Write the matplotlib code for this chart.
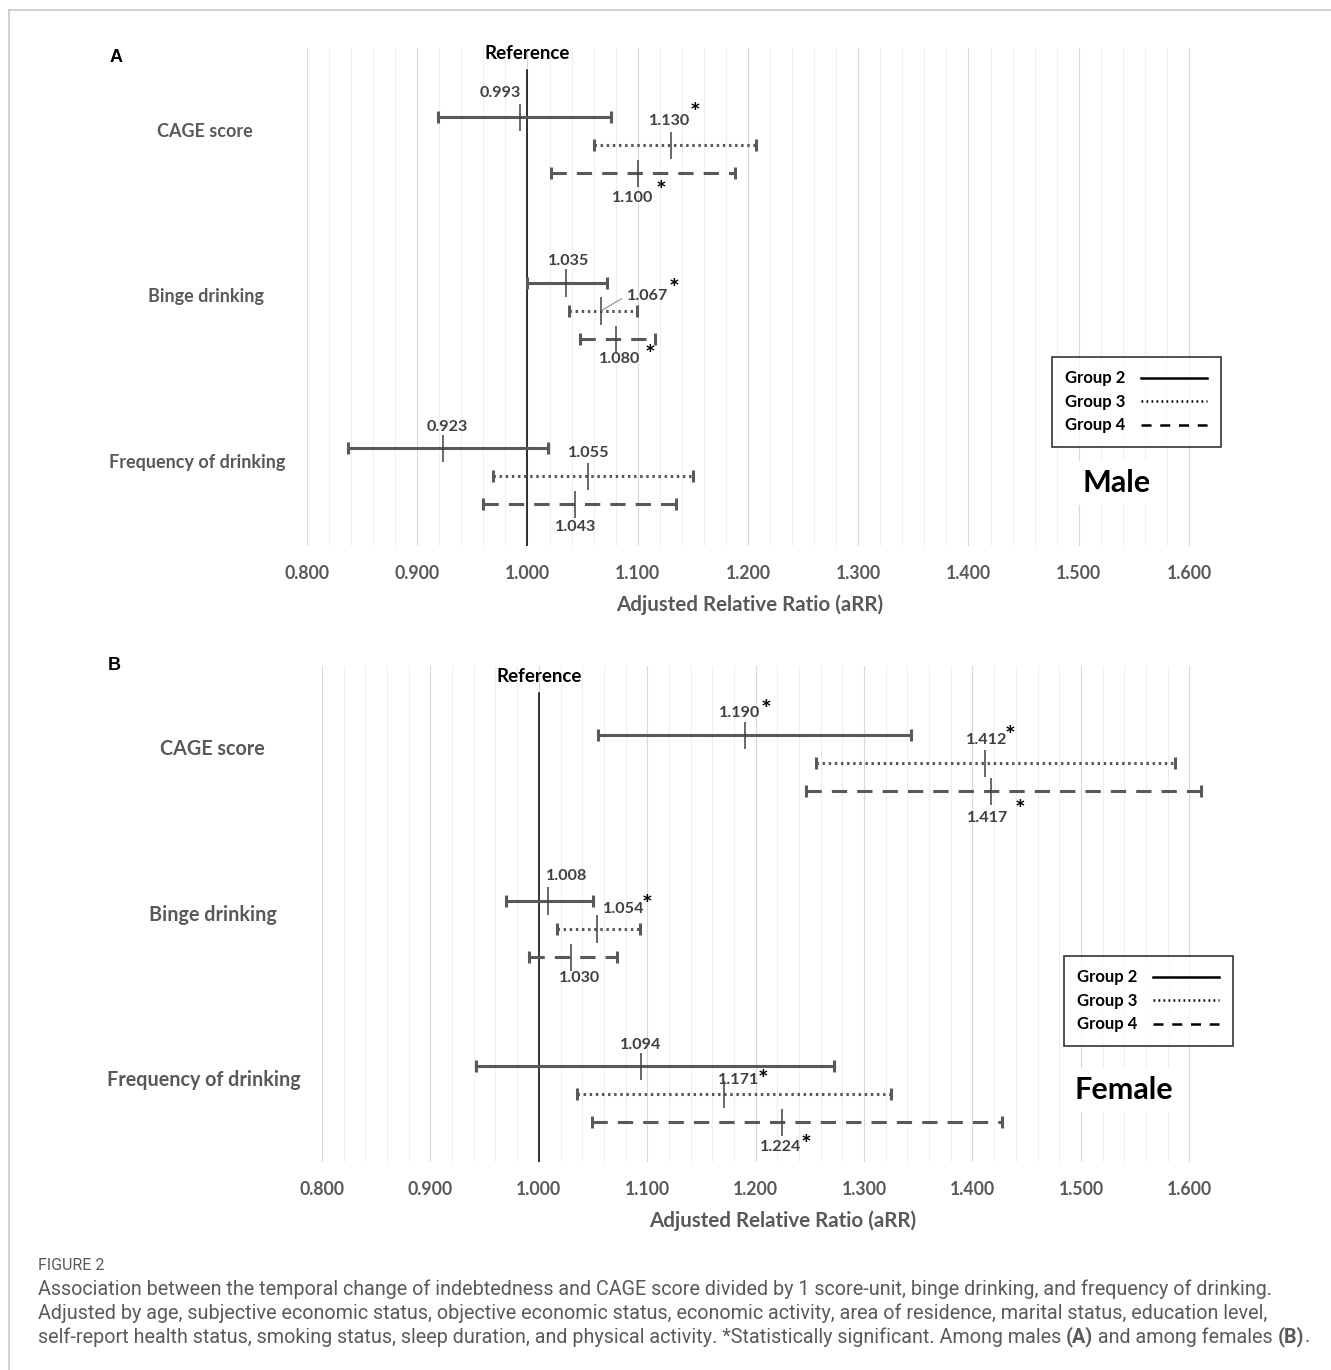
import numpy as np
import matplotlib
matplotlib.use("Agg")
import matplotlib.pyplot as plt
from matplotlib.lines import Line2D
from matplotlib.transforms import blended_transform_factory, offset_copy

plt.rcParams["font.family"] = ["Lato", "DejaVu Sans"]

categories = ["CAGE score", "Binge drinking", "Frequency of drinking"]
groups = ["Group 2", "Group 3", "Group 4"]
xticks = [0.8, 0.9, 1.0, 1.1, 1.2, 1.3, 1.4, 1.5, 1.6]

# male (A): rows = categories, columns = groups
male_arr = [[0.993, 1.130, 1.100], [1.035, 1.067, 1.080], [0.923, 1.055, 1.043]]
male_lo = [[0.919, 1.060, 1.021], [1.000, 1.038, 1.048], [0.837, 0.969, 0.960]]
male_hi = [[1.076, 1.207, 1.188], [1.072, 1.099, 1.116], [1.019, 1.150, 1.135]]
male_sig = [[False, True, True], [False, True, True], [False, False, False]]

# female (B)
female_arr = [[1.190, 1.412, 1.417], [1.008, 1.054, 1.030], [1.094, 1.171, 1.224]]
female_lo = [[1.055, 1.256, 1.246], [0.970, 1.017, 0.991], [0.942, 1.035, 1.049]]
female_hi = [[1.343, 1.587, 1.611], [1.050, 1.093, 1.072], [1.272, 1.325, 1.427]]
female_sig = [[True, True, True], [False, True, False], [False, True, True]]

# label placement (pixel offsets from the point, +dy = down)
male_lab_off = [[(-20, -24), (-1, -24), (-5, 25)],
                [(3, -22), (46, -15), (4, 20)],
                [(5, -21), (1, -23), (1, 23)]]
male_star_off = [[None, (24, -40), (23, 10)],
                 [None, (73, -29), (34, 9)],
                 [None, None, None]]
female_lab_off = [[(-5, -22), (1, -23), (-3, 27)],
                  [(19, -25), (26, -20), (8, 21)],
                  [(0, -21), (14, -14), (-1, 25)]]
female_star_off = [[(21, -33), (25, -35), (29, 11)],
                   [None, (50, -31), None],
                   [None, (39, -22), (24, 15)]]
cat_shift = [0, 1, -8]  # px, category label nudges

W, H = 1331, 1370
fig = plt.figure(figsize=(W / 100, H / 100), dpi=100)

GRAY = "#595959"
DARK = "#404040"
row_step = 0.17
styles = ["-", (0, (0.8, 1.2)), (0, (5, 3.3))]
leg_styles = ["-", (0, (0.7, 1.3)), (0, (4, 3.5))]


def draw_panel(rect, arr, lo, hi, sig, lab_off, star_off, ylim, ref_top, ref_y,
               cat_x, cat_fs, xlab_x, leg_xy, sex, sex_xy):
    ax = fig.add_axes(rect)
    ax.set_xlim(0.8, 1.62)
    ax.set_ylim(*ylim)
    ax.set_xticks(xticks)
    ax.set_xticks(np.arange(0.8, 1.621, 0.02), minor=True)
    ax.set_xticklabels(["%.3f" % t for t in xticks], fontsize=12.7,
                       fontweight="bold", color=GRAY)
    ax.set_yticks([])
    ax.tick_params(axis="x", which="both", length=0, pad=14)
    ax.grid(axis="x", which="major", color="#d9d9d9", lw=0.8)
    ax.grid(axis="x", which="minor", color="#eeeeee", lw=0.8)
    ax.set_axisbelow(True)
    for s in ax.spines.values():
        s.set_visible(False)
    ax.set_xlabel("Adjusted Relative Ratio (aRR)", fontsize=14.8,
                  fontweight="bold", color=GRAY)
    ax.xaxis.set_label_coords(xlab_x, -0.098)

    ax.axvline(1.0, ymin=0, ymax=ref_top, color="black", lw=1.1, zorder=2)
    tr = blended_transform_factory(ax.transData, ax.transAxes)
    ax.text(1.0, ref_y, "Reference", transform=tr, ha="center", va="center",
            fontsize=13.5, fontweight="bold", color="black")

    trc = blended_transform_factory(ax.transAxes, ax.transData)
    for c, cat in enumerate(categories):
        t_cat = offset_copy(trc, fig=fig, x=cat_shift[c], y=0, units="dots")
        ax.text(cat_x, c + 0.085, cat, transform=t_cat, ha="center", va="center",
                fontsize=cat_fs, fontweight="bold", color=GRAY, clip_on=False)
        for g in range(3):
            y = c + g * row_step
            ax.plot([lo[c][g], hi[c][g]], [y, y], color=GRAY, lw=2.2,
                    ls=styles[g], zorder=3)
            ax.plot([lo[c][g], hi[c][g]], [y, y], ls="none", marker="|",
                    ms=8, mew=2.2, color=GRAY, zorder=3)
            ax.vlines(arr[c][g], y - 0.08, y + 0.085, color=DARK, lw=1.1, zorder=4)
            dx, dy = lab_off[c][g]
            kw = {}
            if sex == "Male" and c == 1 and g == 1:
                kw = dict(arrowprops=dict(arrowstyle="-", color="#8c8c8c", lw=0.8,
                                          shrinkA=2, shrinkB=0,
                                          relpos=(0, 0.5)))
            ax.annotate("%.3f" % arr[c][g], (arr[c][g], y), xytext=(dx, -dy),
                        textcoords="offset pixels", ha="center", va="center",
                        fontsize=11.6, fontweight="bold", color=DARK, zorder=5, **kw)
            if sig[c][g]:
                sx, sy = star_off[c][g]
                # the glyph sits high in its box, so push it down a little
                ax.annotate("*", (arr[c][g], y), xytext=(sx, -(sy + 8)),
                            textcoords="offset pixels", ha="center", va="center",
                            fontsize=18, fontweight="bold", color="black", zorder=5)

    handles = [Line2D([], [], color="black", lw=1.8, ls=leg_styles[i]) for i in range(3)]
    leg = ax.legend(handles, groups, loc="upper left", bbox_to_anchor=leg_xy,
                    borderaxespad=0, frameon=True, fancybox=False, markerfirst=False,
                    handlelength=4.0, handletextpad=0.9, labelspacing=0.45,
                    borderpad=0.8, prop=dict(size=12, weight="bold"))
    leg.get_frame().set_edgecolor("black")
    leg.get_frame().set_linewidth(1.2)
    leg.set_zorder(10)

    ax.text(sex_xy[0], sex_xy[1], sex, transform=ax.transAxes, ha="center",
            va="center", fontsize=22, fontweight="bold", color="black", zorder=6,
            bbox=dict(facecolor="white", edgecolor="none", pad=6))
    return ax


draw_panel([307 / W, 1 - 546 / H, 904 / W, 498 / H], male_arr, male_lo, male_hi,
           male_sig, male_lab_off, male_star_off, (2.592, -0.417), 0.956, 0.988,
           -0.1128, 13.0, 0.49, (0.824, 0.3795), "Male", (0.896, 0.1265))
draw_panel([322 / W, 1 - 1162 / H, 889 / W, 496 / H], female_arr, female_lo,
           female_hi, female_sig, female_lab_off, female_star_off, (2.58, -0.417),
           0.9456, 0.978, -0.1237, 14.2, 0.518, (0.8346, 0.4153), "Female", (0.902, 0.145))

fig.text(116 / W, 1 - 57 / H, "A", ha="center", va="center", fontsize=13,
         fontweight="bold", family="Liberation Sans")
fig.text(114 / W, 1 - 666 / H, "B", ha="center", va="center", fontsize=13,
         fontweight="bold", family="Liberation Sans")

# frame around the figure
fig.add_artist(Line2D([9 / W, 9 / W], [0, 1 - 10 / H], color="#c8c8c8", lw=1.2))
fig.add_artist(Line2D([9 / W, 1], [1 - 10 / H, 1 - 10 / H], color="#c8c8c8", lw=1.2))

# caption
cap_kw = dict(family="Roboto", color="#5a5a5a", va="center", ha="left")
fig.text(38 / W, 1 - 1265 / H, "FIGURE 2", fontsize=11.5, **cap_kw)
lines = [
    [("Association between the temporal change of indebtedness and CAGE score divided by 1 score-unit, binge drinking, and frequency of drinking.", "normal")],
    [("Adjusted by age, subjective economic status, objective economic status, economic activity, area of residence, marital status, education level,", "normal")],
    [("self-report health status, smoking status, sleep duration, and physical activity. *Statistically significant. Among males ", "normal"),
     ("(A)", "bold"), (" and among females ", "normal"), ("(B)", "bold"), (".", "normal")],
]
renderer = fig.canvas.get_renderer()
for i, parts in enumerate(lines):
    x = 38 / W
    y = 1 - (1289 + 24 * i) / H
    for s, w in parts:
        t = fig.text(x, y, s, fontsize=14.2, fontweight=w, **cap_kw)
        x += t.get_window_extent(renderer).width / W

fig.savefig("out.png", dpi=100)
